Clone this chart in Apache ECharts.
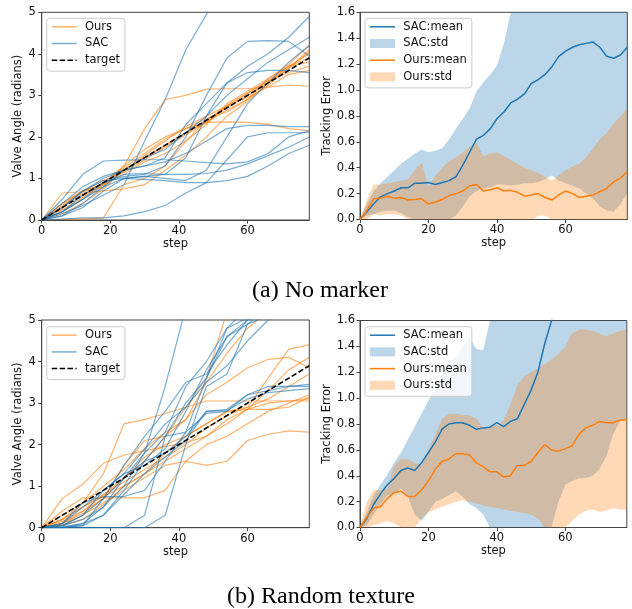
<!DOCTYPE html>
<html><head><meta charset="utf-8">
<script src="https://cdn.jsdelivr.net/npm/echarts@6.0.0/dist/echarts.min.js"></script>
<style>html,body{margin:0;padding:0;background:#fff}#c{width:632px;height:609px}</style>
</head><body><div id="c"></div><script>
// ---------- data ----------
const spagSteps = [0,6,12,18,24,30,36,42,48,54,60,66,72,78];
const targetSteps = [0,78];
const targetValues = [0,3.9];

// (a) No marker: trajectories
const aOurs = [
 [0,0.4,0.7,0.85,1.3,2.2,2.9,3.0,3.15,3.16,3.16,3.2,3.25,3.22],
 [0,0.3,0.6,0.9,1.2,1.5,1.8,2.1,2.35,2.36,2.35,2.3,2.2,2.15],
 [0,0.65,0.68,0.8,1.2,1.5,1.8,2.1,2.4,2.7,3.0,3.3,3.7,4.0],
 [0,0.02,0.02,0.05,0.85,1.0,1.3,1.9,2.4,2.75,3.05,3.35,3.7,3.9],
 [0,0.25,0.5,0.85,1.25,1.6,1.95,2.2,2.45,2.6,2.9,3.4,3.75,4.2],
 [0,0.35,0.7,0.95,1.15,1.45,1.75,2.05,2.35,2.75,3.05,3.35,3.55,3.7],
 [0,0.2,0.55,0.9,1.3,1.7,2.0,2.2,2.35,2.65,2.9,3.25,3.65,4.05],
 [0,0.4,0.7,0.85,1.1,1.4,1.6,1.9,2.3,2.8,3.1,3.4,3.7,3.8],
 [0,0.15,0.4,0.75,1.2,1.55,1.9,2.25,2.5,2.75,2.95,3.2,3.5,3.6],
 [0,0.3,0.65,0.7,0.75,0.85,1.2,1.55,2.0,2.5,2.85,3.3,3.65,4.1]
];
const aSac = [
 [0,0.15,0.35,0.6,0.85,1.9,2.9,4.1,4.95,6,6,6,6,6],
 [0,0.2,0.5,0.9,1.05,1.1,1.3,2.0,3.0,3.9,4.3,4.32,4.3,3.95],
 [0,0.1,0.4,0.8,1.0,1.05,1.1,1.5,2.5,3.3,3.7,4.0,4.4,4.9],
 [0,0.3,0.7,1.0,1.2,1.3,1.5,2.3,2.8,3.3,3.55,3.6,3.6,3.55],
 [0,0.5,1.1,1.42,1.44,1.45,1.45,1.42,1.38,1.35,1.4,1.6,2.0,2.15],
 [0,0.02,0.05,0.05,0.1,0.2,0.35,0.65,0.9,1.45,2.0,2.1,2.1,2.1],
 [0,0.3,0.7,0.95,1.0,0.98,0.95,0.9,0.9,0.95,1.05,1.3,1.6,1.8],
 [0,0.2,0.6,0.9,1.1,1.12,1.1,1.1,1.12,1.2,1.35,1.55,1.75,2.0],
 [0,0.2,0.5,0.8,1.2,1.5,1.7,2.1,2.5,3.0,3.4,3.8,4.1,4.4],
 [0,0.4,0.8,1.05,1.2,1.3,1.4,1.6,1.9,2.2,2.28,2.28,2.25,2.25],
 [0,0.1,0.3,0.7,1.0,1.05,1.0,0.95,1.2,2.0,2.8,3.3,3.8,4.2]
];
// (b) Random texture: trajectories
const bOurs = [
 [0,0.7,1.05,1.55,1.75,1.85,1.95,2.05,2.2,2.5,2.85,3.0,3.05,3.1],
 [0,0.4,0.72,0.72,0.72,0.72,0.9,1.6,2.0,2.2,2.5,2.8,3.0,3.2],
 [0,0.2,0.6,1.3,2.5,2.6,2.75,2.9,3.05,3.05,3.05,3.05,3.05,3.05],
 [0,0.1,0.3,0.6,0.9,1.2,1.5,1.6,1.5,1.6,2.1,2.25,2.33,2.3],
 [0,0.2,0.5,0.8,1.2,1.6,2.2,2.9,3.6,5.2,6,6,6,6],
 [0,0.1,0.4,0.7,1.5,2.1,2.2,2.6,3.5,4.2,4.8,5.2,6,6],
 [0,0.3,0.6,1.0,1.4,1.9,2.3,2.6,3.2,3.5,3.85,4.05,4.1,3.85],
 [0,0.15,0.4,0.8,1.1,1.4,1.7,2.0,2.4,2.7,2.9,3.6,4.3,4.4],
 [0,0.05,0.2,0.55,1.0,1.3,1.8,2.2,2.5,2.8,2.9,3.1,3.4,3.7],
 [0,0.2,0.5,0.75,1.0,1.3,1.6,1.9,2.2,2.6,2.85,3.3,3.8,4.1],
 [0,0.1,0.35,0.7,1.2,1.7,2.0,2.2,2.5,2.8,2.85,2.85,2.9,3.15]
];
const bSac = [
 [0,0.05,0.2,0.5,1.0,1.8,3.4,5.3,6,6,6,6,6,6],
 [0,0,0,0,0,0.3,2.2,3.0,3.6,4.8,5.3,6,6,6],
 [0,0,0,0,0,0,0.3,2.0,3.4,3.7,4.9,5.3,6,6],
 [0,0.02,0.1,0.5,1.2,1.8,2.3,3.4,4.0,4.8,5.05,6,6,6],
 [0,0,0.05,0.7,1.5,2.2,2.8,3.5,3.7,4.4,5.0,5.2,6,6],
 [0,0.05,0.3,0.9,1.3,1.5,1.9,2.8,3.8,4.6,5.0,5.2,6,6],
 [0,0,0.1,0.3,0.9,1.6,2.2,2.3,3.6,4.6,4.9,5.1,6,6],
 [0,0.1,0.5,0.9,1.3,1.9,2.5,2.9,3.5,3.9,4.5,5.0,5.2,6],
 [0,0.05,0.3,0.7,1.2,1.6,1.8,2.2,2.8,2.85,3.2,3.3,3.4,3.4],
 [0,0,0.05,0.3,0.8,1.3,1.7,2.1,2.8,2.82,3.1,3.25,3.3,3.35],
 [0,0.1,0.6,0.75,0.75,0.9,1.6,2.3,2.75,2.8,3.2,3.4,3.4,3.45]
];

// tracking error (steps 0,2,...,78)
const errSteps = [0,2,4,6,8,10,12,14,16,18,20,22,24,26,28,30,32,34,36,38,40,42,44,46,48,50,52,54,56,58,60,62,64,66,68,70,72,74,76,78];
const aSacMean = [0,0.06,0.12,0.175,0.2,0.22,0.245,0.245,0.28,0.28,0.285,0.27,0.285,0.3,0.33,0.42,0.52,0.62,0.65,0.7,0.78,0.83,0.9,0.93,0.97,1.05,1.08,1.12,1.18,1.26,1.3,1.33,1.35,1.36,1.37,1.33,1.26,1.245,1.27,1.33];
const aSacUpper = [0,0.12,0.22,0.28,0.33,0.38,0.43,0.47,0.51,0.54,0.52,0.53,0.55,0.62,0.7,0.78,0.86,0.99,1.06,1.12,1.19,1.36,1.6,1.75,1.85,1.9,1.95,2.0,2.05,2.1,2.15,2.2,2.2,2.2,2.2,2.15,2.1,2.1,2.1,2.1];
const aSacLower = [0,0.03,0.04,0.06,0.07,0.07,0.05,0.02,0.0,-0.02,-0.04,-0.04,-0.02,0.0,0.03,0.1,0.18,0.22,0.24,0.25,0.27,0.27,0.26,0.27,0.28,0.28,0.29,0.31,0.34,0.3,0.28,0.26,0.24,0.2,0.16,0.1,0.07,0.06,0.12,0.2];
const aOursMean = [0,0.07,0.16,0.165,0.18,0.165,0.17,0.15,0.155,0.16,0.12,0.135,0.155,0.185,0.2,0.22,0.26,0.27,0.22,0.23,0.245,0.22,0.225,0.21,0.18,0.19,0.2,0.17,0.15,0.19,0.22,0.2,0.17,0.18,0.19,0.215,0.24,0.29,0.32,0.37];
const aOursUpper = [0,0.15,0.27,0.27,0.28,0.29,0.3,0.31,0.38,0.44,0.25,0.34,0.4,0.45,0.48,0.52,0.56,0.59,0.49,0.51,0.52,0.49,0.46,0.43,0.4,0.38,0.36,0.33,0.3,0.34,0.38,0.41,0.43,0.48,0.55,0.62,0.67,0.74,0.8,0.86];
const aOursLower = [0,0.0,0.04,0.03,0.04,0.04,0.03,0.0,-0.05,-0.1,-0.08,-0.06,-0.05,-0.03,-0.02,-0.05,-0.06,-0.05,-0.05,-0.04,-0.03,-0.04,-0.04,-0.03,-0.03,-0.02,0.03,0.03,0.0,-0.03,-0.02,-0.04,-0.05,-0.05,-0.04,-0.03,-0.05,-0.06,-0.05,-0.04];

const bSacMean = [0,0.07,0.18,0.26,0.33,0.38,0.44,0.46,0.44,0.5,0.58,0.66,0.76,0.8,0.81,0.81,0.79,0.76,0.77,0.775,0.81,0.78,0.82,0.84,0.95,1.06,1.2,1.42,1.6,1.75,1.85,1.9,1.95,2.0,2.05,2.1,2.1,2.15,2.15,2.2];
const bSacUpper = [0,0.12,0.25,0.33,0.41,0.5,0.58,0.68,0.78,0.88,0.98,1.08,1.18,1.26,1.32,1.4,1.47,1.38,1.37,1.6,1.75,1.8,1.85,1.9,1.95,2.0,2.05,2.1,2.15,2.2,2.2,2.2,2.2,2.2,2.2,2.2,2.2,2.2,2.2,2.2];
const bSacLower = [0,0.02,0.1,0.18,0.25,0.26,0.3,0.24,0.1,0.05,0.12,0.2,0.22,0.25,0.28,0.24,0.18,0.15,0.1,0.0,-0.1,-0.15,-0.1,-0.05,-0.05,-0.05,-0.05,-0.02,0.0,0.2,0.33,0.36,0.38,0.38,0.4,0.45,0.55,0.72,0.82,0.84];
const bOursMean = [0,0.08,0.15,0.16,0.225,0.27,0.28,0.24,0.24,0.29,0.36,0.45,0.51,0.53,0.57,0.57,0.56,0.5,0.47,0.43,0.43,0.39,0.4,0.48,0.48,0.51,0.58,0.64,0.6,0.59,0.61,0.63,0.72,0.77,0.79,0.82,0.81,0.81,0.83,0.83];
const bOursUpper = [0,0.2,0.29,0.29,0.3,0.48,0.53,0.53,0.5,0.48,0.6,0.72,0.84,0.88,0.88,0.87,0.87,0.84,0.77,0.78,0.79,0.83,0.95,1.1,1.17,1.2,1.23,1.26,1.3,1.34,1.4,1.5,1.53,1.53,1.52,1.5,1.48,1.5,1.52,1.53];
const bOursLower = [0,0.0,0.02,0.03,0.05,0.03,0.0,-0.02,0.0,0.07,0.12,0.14,0.16,0.18,0.2,0.21,0.2,0.19,0.17,0.16,0.15,0.14,0.13,0.12,0.11,0.1,0.07,0.0,-0.05,-0.02,0.0,0.05,0.1,0.13,0.14,0.12,0.13,0.15,0.14,0.14];

const xTicks = ['0','20','40','60'];
const captions = ['(a) No marker', '(b) Random texture'];

// ---------- styling ----------
const BLUE = '#1f77b4', ORANGE = '#ff7f0e';
const FONT = 'DejaVu Sans';
const grids = [
  {left: 41.7, top: 12.3, width: 267.6, height: 207.7},
  {left: 360, top: 12.3, width: 267.3, height: 207.2},
  {left: 41.7, top: 320, width: 267.6, height: 207.7},
  {left: 360, top: 320.5, width: 266.8, height: 207}
].map(g => Object.assign(g, {show: true, borderColor: '#444', borderWidth: 1, containLabel: false}));

const pairs = (xs, ys) => xs.map((x, i) => [x, ys[i]]);
const axisCommon = {
  axisLine: {show: true, onZero: false, lineStyle: {color: '#444', width: 1}},
  axisTick: {show: true, inside: false, length: 3.5, lineStyle: {color: '#444', width: 1}},
  splitLine: {show: false},
  nameTextStyle: {fontFamily: FONT, fontSize: 11.5, color: '#111'}
};
const xAxes = [0,1,2,3].map(i => Object.assign({}, axisCommon, {
  type: 'value', gridIndex: i, min: 0, max: 78, interval: 20,
  name: 'step', nameLocation: 'middle', nameGap: 17,
  axisLabel: {fontFamily: FONT, fontSize: 11.5, color: '#111', margin: 5, showMaxLabel: false,
    formatter: v => xTicks[v / 20] !== undefined ? xTicks[v / 20] : ''}
}));
const yAxes = [0,1,2,3].map(i => {
  const angle = (i % 2 === 0);
  return Object.assign({}, axisCommon, {
    type: 'value', gridIndex: i, min: 0, max: angle ? 5 : 1.6, interval: angle ? 1 : 0.2,
    name: angle ? 'Valve Angle (radians)' : 'Tracking Error', nameLocation: 'middle', nameGap: angle ? 16 : 27,
    axisLabel: {fontFamily: FONT, fontSize: 11.5, color: '#111', margin: angle ? 6 : 5,
      formatter: v => angle ? String(Math.round(v)) : v.toFixed(1)}
  });
});

const series = [];
function spag(idx, lines, name, color) {
  lines.forEach(ys => series.push({
    type: 'line', name, xAxisIndex: idx, yAxisIndex: idx, data: pairs(spagSteps, ys),
    symbol: 'none', silent: true, animation: false, clip: true,
    lineStyle: {color, width: 1.2, opacity: 0.6}, itemStyle: {color}
  }));
}
function target(idx) {
  series.push({type: 'line', name: 'target', xAxisIndex: idx, yAxisIndex: idx,
    data: pairs(targetSteps, targetValues), symbol: 'none', silent: true, animation: false,
    lineStyle: {color: '#000', width: 1.6, type: [5.5, 2.4]}, itemStyle: {color: '#000'}, z: 5});
}
function band(idx, lower, upper, name, color) {
  series.push({type: 'custom', name, coordinateSystem: 'cartesian2d', xAxisIndex: idx, yAxisIndex: idx,
    data: [[0, 0]], silent: true, animation: false, itemStyle: {color},
    renderItem: (params, api) => {
      const pts = [];
      errSteps.forEach((x, i) => pts.push(api.coord([x, upper[i]])));
      for (let i = errSteps.length - 1; i >= 0; i--) pts.push(api.coord([errSteps[i], lower[i]]));
      const cs = params.coordSys;
      return {type: 'polygon', shape: {points: pts},
        style: {fill: color, opacity: 0.3, stroke: null},
        clipPath: {type: 'rect', shape: {x: cs.x, y: cs.y, width: cs.width, height: cs.height}}};
    }});
}
function meanLine(idx, ys, name, color) {
  series.push({type: 'line', name, xAxisIndex: idx, yAxisIndex: idx, data: pairs(errSteps, ys),
    symbol: 'none', silent: true, animation: false, lineStyle: {color, width: 1.5}, itemStyle: {color}, z: 4});
}

spag(0, aOurs, 'Ours', ORANGE); spag(0, aSac, 'SAC', BLUE); target(0);
spag(2, bOurs, 'Ours', ORANGE); spag(2, bSac, 'SAC', BLUE); target(2);
band(1, aSacLower, aSacUpper, 'SAC:std', BLUE);
band(1, aOursLower, aOursUpper, 'Ours:std', ORANGE);
meanLine(1, aSacMean, 'SAC:mean', BLUE); meanLine(1, aOursMean, 'Ours:mean', ORANGE);
band(3, bSacLower, bSacUpper, 'SAC:std', BLUE);
band(3, bOursLower, bOursUpper, 'Ours:std', ORANGE);
meanLine(3, bSacMean, 'SAC:mean', BLUE); meanLine(3, bOursMean, 'Ours:mean', ORANGE);

const LINE = 'path://M0,0h25v1.5h-25z';
const DASH = 'path://M0,0h5.5v1.5h-5.5z M7.9,0h5.5v1.5h-5.5z M15.8,0h5.5v1.5h-5.5z M23.7,0h1.3v1.5h-1.3z';
const li = (name, icon, color) => ({name, icon, itemStyle: {color, borderWidth: 0}});
const leftLegendData = [li('Ours', LINE, 'rgba(255,127,14,0.6)'), li('SAC', LINE, 'rgba(31,119,180,0.6)'), li('target', DASH, '#000')];
const rightLegendData = [li('SAC:mean', LINE, BLUE), li('SAC:std', 'rect', 'rgba(31,119,180,0.3)'),
  li('Ours:mean', LINE, ORANGE), li('Ours:std', 'rect', 'rgba(255,127,14,0.3)')];
function legend(left, top, data) {
  return {left, top, data, orient: 'vertical', itemWidth: 25, itemHeight: 9, itemGap: 4.7,
    padding: [2.5, 5, 5, 5], selectedMode: false, backgroundColor: 'rgba(255,255,255,0.8)',
    borderColor: '#cccccc', borderWidth: 1, borderRadius: 3, z: 10,
    textStyle: {fontFamily: FONT, fontSize: 11.5, color: '#111', lineHeight: 12, padding: [0, 0, 0, 3.3]}};
}

const option = {
  animation: false,
  grid: grids, xAxis: xAxes, yAxis: yAxes, series,
  legend: [legend(46.7, 18.3, leftLegendData), legend(365, 18.3, rightLegendData),
           legend(46.7, 326.7, leftLegendData), legend(365, 326.7, rightLegendData)],
  graphic: [
    {type: 'text', x: 320, y: 291, style: {text: captions[0], font: '24px "Liberation Serif"', fill: '#000', align: 'center', verticalAlign: 'middle'}},
    {type: 'text', x: 321, y: 597, style: {text: captions[1], font: '24px "Liberation Serif"', fill: '#000', align: 'center', verticalAlign: 'middle'}}
  ]
};
const chart = echarts.init(document.getElementById('c'), null, {renderer: 'canvas'});
chart.setOption(option);
</script></body></html>
